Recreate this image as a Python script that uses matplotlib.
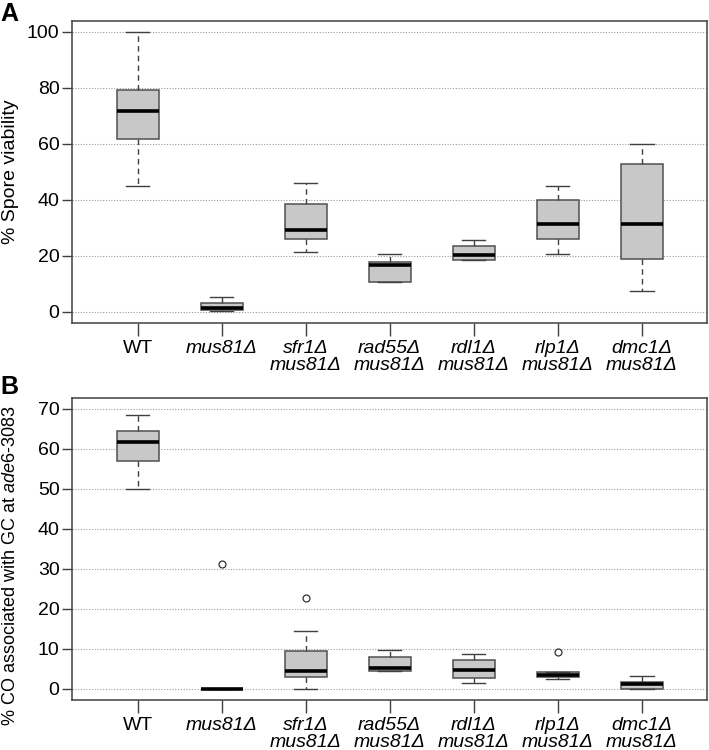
import matplotlib
matplotlib.use('Agg')
import matplotlib.pyplot as plt

plt.rcParams['font.family'] = ['Liberation Sans', 'DejaVu Sans']
plt.rcParams['mathtext.fontset'] = 'custom'
plt.rcParams['mathtext.rm'] = 'Liberation Sans'
plt.rcParams['mathtext.it'] = 'Liberation Sans:italic'

strains = ['WT', 'mus81Δ', 'sfr1Δ\nmus81Δ', 'rad55Δ\nmus81Δ',
           'rdl1Δ\nmus81Δ', 'rlp1Δ\nmus81Δ', 'dmc1Δ\nmus81Δ']

# panel A: % spore viability (whisker low, q1, median, q3, whisker high)
via_lo = [44.9, 0.3, 21.2, 10.5, 18.4, 20.5, 7.5]
via_q1 = [61.7, 0.6, 26.2, 10.5, 18.4, 26.2, 18.8]
via_med = [71.9, 1.2, 29.3, 16.7, 20.2, 31.5, 31.5]
via_q3 = [79.3, 3.0, 38.6, 17.9, 23.4, 39.9, 52.9]
via_hi = [100.0, 5.2, 46.2, 20.5, 25.7, 45.0, 59.9]
via_out = [[], [], [], [], [], [], []]

# panel B: % CO associated with GC at ade6-3083
co_lo = [50.0, 0.0, 0.0, 4.5, 1.4, 2.5, 0.0]
co_q1 = [57.0, 0.0, 3.0, 4.5, 2.7, 3.0, 0.0]
co_med = [61.7, 0.0, 4.5, 5.1, 4.8, 3.4, 1.1]
co_q3 = [64.6, 0.0, 9.5, 8.0, 7.1, 4.25, 1.7]
co_hi = [68.4, 0.0, 14.4, 9.6, 8.6, 4.25, 3.25]
co_out = [[], [31.25], [22.75], [], [], [9.2], []]


def make_stats(lo, q1, med, q3, hi, out):
    return [dict(whislo=a, q1=b, med=c, q3=d, whishi=e, fliers=f)
            for a, b, c, d, e, f in zip(lo, q1, med, q3, hi, out)]


def draw(ax, stats, ymax, step, ylabel, ylsize, ylpos):
    ax.bxp(stats, positions=range(1, len(stats) + 1), widths=0.5, capwidths=0.28,
           patch_artist=True,
           boxprops=dict(facecolor='#c8c8c8', edgecolor='#505050', linewidth=1.1),
           medianprops=dict(color='black', linewidth=2.6, solid_capstyle='butt'),
           whiskerprops=dict(color='#404040', linewidth=1.0, linestyle=(0, (4, 3))),
           capprops=dict(color='#404040', linewidth=1.0),
           flierprops=dict(marker='o', markerfacecolor='none', markeredgecolor='#333333',
                           markersize=5, markeredgewidth=0.9))
    n = len(stats)
    ax.set_xlim(0.5 - 0.04 * n, n + 0.5 + 0.04 * n)
    ax.set_ylim(-0.04 * ymax, ymax * 1.04)
    ax.set_yticks(range(0, ymax + 1, step))
    ax.yaxis.grid(True, linestyle=(0, (1, 1.5)), color='#9a9a9a', linewidth=0.8)
    ax.set_axisbelow(True)
    ax.set_xticks(range(1, n + 1))
    ax.set_xticklabels(strains, fontsize=14, linespacing=1.05)
    for i, t in enumerate(ax.get_xticklabels()):
        if i > 0:
            t.set_fontstyle('italic')
    ax.tick_params(axis='x', length=9, width=1, color='#404040', pad=3)
    ax.tick_params(axis='y', length=7, width=1, color='#404040', labelsize=14, pad=2)
    for s in ax.spines.values():
        s.set_color('#404040')
        s.set_linewidth(1.1)
    ax.set_ylabel(ylabel, fontsize=ylsize)
    ax.yaxis.set_label_coords(-0.084, ylpos)


fig = plt.figure(figsize=(7.09, 7.5), dpi=100)
ax1 = fig.add_axes([0.1016, 0.5693, 0.896, 0.403])
ax2 = fig.add_axes([0.1016, 0.0667, 0.896, 0.403])

draw(ax1, make_stats(via_lo, via_q1, via_med, via_q3, via_hi, via_out), 100, 20,
     '% Spore viability', 14, 0.5)
draw(ax2, make_stats(co_lo, co_q1, co_med, co_q3, co_hi, co_out), 70, 10,
     '% CO associated with GC at $\\it{ade6}$-$\\it{3083}$', 13, 0.445)

fig.text(0.0, 0.997, 'A', fontsize=18, fontweight='bold', va='top', ha='left')
fig.text(0.0, 0.5, 'B', fontsize=18, fontweight='bold', va='top', ha='left')

fig.savefig('out.png', dpi=100)
